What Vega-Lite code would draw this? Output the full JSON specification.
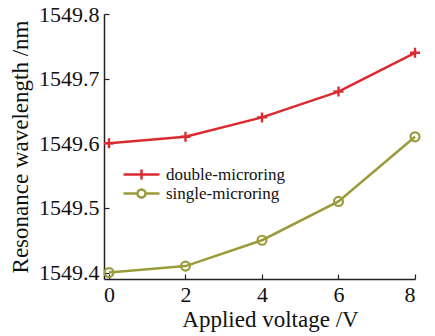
{
  "$schema": "https://vega.github.io/schema/vega-lite/v6.json",
  "width": 311,
  "height": 265,
  "autosize": "none",
  "padding": {"left": 104, "top": 14, "right": 20, "bottom": 57},
  "background": "white",
  "config": {
    "view": {"stroke": null},
    "font": "Liberation Serif",
    "axis": {
      "domainColor": "#222",
      "domainWidth": 1.5,
      "tickColor": "#222",
      "tickWidth": 1.2,
      "tickSize": -5,
      "grid": false,
      "labelFont": "Liberation Serif",
      "labelFontSize": 22,
      "labelColor": "#111",
      "titleFont": "Liberation Serif",
      "titleFontSize": 23,
      "titleFontWeight": "normal",
      "titleColor": "#111"
    }
  },
  "data": {
    "values": [
      {"voltage": 0, "wavelength": 1549.60, "series": "double-microring"},
      {"voltage": 2, "wavelength": 1549.61, "series": "double-microring"},
      {"voltage": 4, "wavelength": 1549.64, "series": "double-microring"},
      {"voltage": 6, "wavelength": 1549.68, "series": "double-microring"},
      {"voltage": 8, "wavelength": 1549.74, "series": "double-microring"},
      {"voltage": 0, "wavelength": 1549.40, "series": "single-microring"},
      {"voltage": 2, "wavelength": 1549.41, "series": "single-microring"},
      {"voltage": 4, "wavelength": 1549.45, "series": "single-microring"},
      {"voltage": 6, "wavelength": 1549.51, "series": "single-microring"},
      {"voltage": 8, "wavelength": 1549.61, "series": "single-microring"}
    ]
  },
  "encoding": {
    "x": {
      "field": "voltage", "type": "quantitative",
      "scale": {"domain": [-0.13, 8], "nice": false, "zero": false},
      "axis": {"values": [0, 2, 4, 6, 8], "title": "Applied voltage /V", "labelPadding": 10, "titlePadding": 3, "titleX": 166}
    },
    "y": {
      "field": "wavelength", "type": "quantitative",
      "scale": {"domain": [1549.39, 1549.8], "nice": false, "zero": false},
      "axis": {"values": [1549.4, 1549.5, 1549.6, 1549.7, 1549.8], "format": ".1f", "title": "Resonance wavelength /nm", "labelPadding": 10, "titlePadding": 6}
    },
    "color": {
      "field": "series", "type": "nominal",
      "scale": {"domain": ["double-microring", "single-microring"], "range": ["#d92b30", "#9b9b3b"]},
      "legend": {
        "title": null,
        "orient": "none",
        "legendX": 29,
        "legendY": 152,
        "symbolSize": 100,
        "symbolStrokeWidth": 2.5,
        "symbolOpacity": 1,
        "symbolFillColor": "transparent",
        "labelFont": "Liberation Serif",
        "labelFontSize": 17,
        "labelColor": "#111",
        "labelOffset": 16,
        "rowPadding": -2
      }
    }
  },
  "layer": [
    {"mark": {"type": "line", "strokeWidth": 2.5}},
    {
      "mark": {"type": "point", "filled": false, "opacity": 0},
      "encoding": {
        "shape": {
          "field": "series", "type": "nominal",
          "scale": {
            "domain": ["double-microring", "single-microring"],
            "range": ["M-3.6,0H3.6M0,-1V1", "M-3.6,0H-0.85M0.85,0H3.6M-0.8,0A0.8,0.8 0 1,0 0.8,0A0.8,0.8 0 1,0 -0.8,0"]
          }
        }
      }
    },
    {
      "transform": [{"filter": "datum.series === 'double-microring'"}],
      "mark": {"type": "point", "shape": "M-1,0H1M0,-1V1", "filled": false, "strokeWidth": 2.4, "size": 100, "opacity": 1}
    },
    {
      "transform": [{"filter": "datum.series === 'single-microring'"}],
      "mark": {"type": "point", "shape": "circle", "filled": false, "strokeWidth": 2.2, "size": 80, "opacity": 1}
    }
  ]
}
